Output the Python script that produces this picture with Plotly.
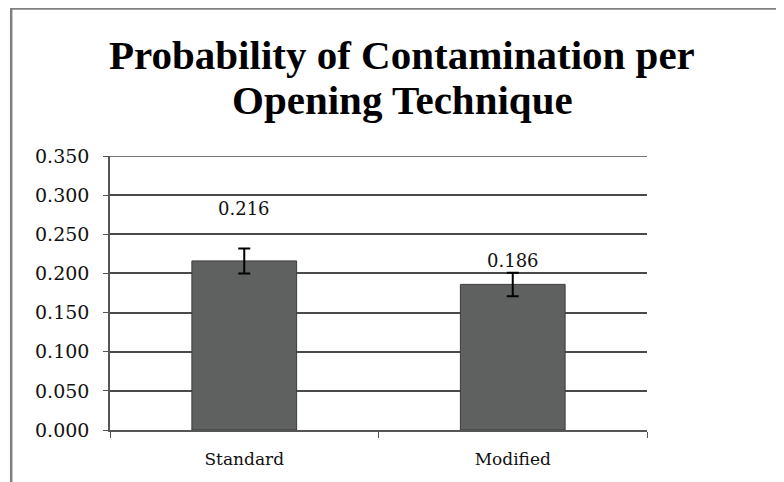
import plotly.graph_objects as go

categories = ["Standard", "Modified"]
values = [0.216, 0.186]
errors = [0.016, 0.015]
value_labels = ["0.216", "0.186"]
label_offsets = [52, 24]
y_ticks = [0.0, 0.05, 0.10, 0.15, 0.20, 0.25, 0.30, 0.35]
title_lines = ["Probability of Contamination per", "Opening Technique"]

small = "'DejaVu Serif', 'Liberation Serif', serif"
big = "'Liberation Serif', serif"

fig = go.Figure()
fig.add_trace(go.Bar(
    x=categories, y=values, width=0.39,
    marker=dict(color="#5f6060", line=dict(color="#3c3c3c", width=1)),
    error_y=dict(type="data", array=errors, visible=True, color="#000000",
                 thickness=2, width=6),
))

for c, v, t, off in zip(categories, values, value_labels, label_offsets):
    fig.add_annotation(x=c, y=v, text=t, showarrow=False, yshift=off,
                       font=dict(family=small, size=18, color="#111"))

for line, py in zip(title_lines, [1.3686, 1.2044]):
    fig.add_annotation(xref="paper", yref="paper", x=0.5438, y=py,
                       xanchor="center", yanchor="middle", showarrow=False,
                       text="<b>" + line + "</b>",
                       font=dict(family=big, size=41, color="#000"))

fig.update_layout(
    width=776, height=474,
    margin=dict(l=102, r=137, t=148, b=52),
    paper_bgcolor="white", plot_bgcolor="white",
    showlegend=False,
    xaxis=dict(showline=True, linecolor="#555", linewidth=1.5,
               ticks="outside", tickson="boundaries", ticklen=6, tickcolor="#555",
               ticklabelstandoff=13,
               tickfont=dict(family=small, size=17, color="#111"),
               showgrid=False),
    yaxis=dict(range=[0, y_ticks[-1]], tickvals=y_ticks, tickformat=".3f",
               showline=True, linecolor="#555", linewidth=1.5,
               ticks="outside", ticklen=5, tickcolor="#555",
               ticklabelstandoff=10,
               gridcolor="#4a4a4a", gridwidth=1.5,
               tickfont=dict(family=small, size=19, color="#111"),
               zeroline=False),
    shapes=[
        dict(type="line", xref="paper", yref="y",
             x0=0, x1=1, y0=y_ticks[-1], y1=y_ticks[-1],
             line=dict(color="#4a4a4a", width=1.5)),
        dict(type="line", xref="paper", yref="paper",
             x0=-0.184, x1=-0.184, y0=-0.2, y1=1.54,
             line=dict(color="#808080", width=2.5)),
        dict(type="line", xref="paper", yref="paper",
             x0=-0.184, x1=1.26, y0=1.538, y1=1.538,
             line=dict(color="#808080", width=2.5)),
    ],
)

fig.write_html("out.html")
